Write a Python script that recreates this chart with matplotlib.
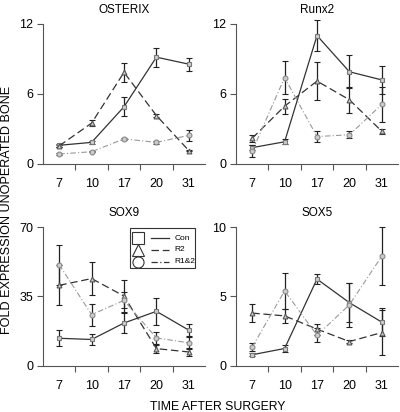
import numpy as np
import matplotlib
matplotlib.use('Agg')
import matplotlib.pyplot as plt

plt.rcParams['font.family'] = ['Liberation Sans', 'DejaVu Sans']

days = ['7', '10', '17', '20', '31']
series = ['Con', 'R2', 'R1&2']

# OSTERIX
ost_con = [1.6, 1.85, 4.9, 9.15, 8.55]
ost_con_err = [0.15, 0.1, 0.8, 0.8, 0.55]
ost_r2 = [1.55, 3.5, 7.85, 4.15, 1.15]
ost_r2_err = [0.1, 0.25, 0.8, 0.15, 0.05]
ost_r12 = [0.85, 1.05, 2.15, 1.85, 2.45]
ost_r12_err = [0.1, 0.05, 0.1, 0.1, 0.5]

# Runx2
runx_con = [1.4, 1.9, 11.0, 7.9, 7.2]
runx_con_err = [0.2, 0.2, 1.3, 1.4, 1.2]
runx_r2 = [2.2, 4.95, 7.1, 5.5, 2.8]
runx_r2_err = [0.3, 0.65, 1.6, 1.1, 0.2]
runx_r12 = [1.1, 7.4, 2.35, 2.5, 5.1]
runx_r12_err = [0.5, 1.4, 0.5, 0.3, 1.5]

# SOX9
sox9_con = [13.9, 13.3, 21.6, 27.5, 18.0]
sox9_con_err = [4.0, 3.0, 5.0, 6.7, 3.0]
sox9_r2 = [40.6, 44.0, 35.2, 8.7, 7.0]
sox9_r2_err = [10.0, 8.4, 8.0, 2.0, 2.0]
sox9_r12 = [51.0, 25.8, 33.0, 14.1, 11.6]
sox9_r12_err = [10.0, 5.5, 4.0, 3.0, 3.0]

# SOX5
sox5_con = [0.8, 1.25, 6.25, 4.55, 3.15]
sox5_con_err = [0.1, 0.25, 0.35, 1.4, 1.0]
sox5_r2 = [3.8, 3.6, 2.65, 1.75, 2.4]
sox5_r2_err = [0.65, 0.5, 0.4, 0.1, 1.6]
sox5_r12 = [1.35, 5.4, 2.2, 4.4, 7.9]
sox5_r12_err = [0.3, 1.3, 0.5, 1.6, 2.1]

panels = [
    ('OSTERIX', [0, 6, 12], (ost_con, ost_con_err), (ost_r2, ost_r2_err), (ost_r12, ost_r12_err)),
    ('Runx2', [0, 6, 12], (runx_con, runx_con_err), (runx_r2, runx_r2_err), (runx_r12, runx_r12_err)),
    ('SOX9', [0, 35, 70], (sox9_con, sox9_con_err), (sox9_r2, sox9_r2_err), (sox9_r12, sox9_r12_err)),
    ('SOX5', [0, 5, 10], (sox5_con, sox5_con_err), (sox5_r2, sox5_r2_err), (sox5_r12, sox5_r12_err)),
]

# 線種・マーカー
styles = [
    dict(ls='-', marker='s', color='#333333', mec='#777777', lw=0.9),
    dict(ls=(0, (6, 3)), marker='^', color='#333333', mec='#555555', lw=0.9),
    dict(ls=(0, (5, 2, 1, 2)), marker='o', color='#999999', mec='#888888', lw=0.8),
]

fig = plt.figure(figsize=(4.0, 4.12), dpi=100)
boxes = [
    [0.1075, 0.602, 0.405, 0.340],
    [0.590, 0.602, 0.405, 0.340],
    [0.1075, 0.112, 0.405, 0.337],
    [0.590, 0.112, 0.405, 0.337],
]

x = np.arange(1, len(days) + 1)
for box, (title, yt, *data) in zip(boxes, panels):
    ax = fig.add_axes(box)
    for (vals, err), st in zip(data, styles):
        ax.errorbar(x, vals, yerr=err, color=st['color'], ls=st['ls'], lw=st['lw'],
                    marker=st['marker'], ms=3.5, mfc='#cccccc', mec=st['mec'], mew=0.8,
                    ecolor='#222222', elinewidth=0.9, capsize=2, capthick=0.8, clip_on=False)
    ax.set_xlim(0.5, len(days) + 0.5)
    ax.set_ylim(yt[0], yt[-1])
    ax.set_yticks(yt)
    ax.set_xticks(np.arange(1.5, len(days), 1.0))
    ax.set_xticklabels([])
    ax.set_xticks(x, minor=True)
    ax.set_xticklabels(days, minor=True)
    ax.tick_params(axis='x', which='minor', length=0, pad=10, labelsize=9)
    ax.tick_params(axis='x', which='major', length=4, width=0.8, color='#555555')
    ax.tick_params(axis='y', length=4, width=0.8, color='#555555', labelsize=9, pad=3)
    for s in ['top', 'right']:
        ax.spines[s].set_visible(False)
    for s in ['left', 'bottom']:
        ax.spines[s].set_color('#555555')
        ax.spines[s].set_linewidth(0.8)
    ax.set_title(title, fontsize=8.5, pad=8)

    if title == 'SOX9':
        # 凡例（手描き）
        ax.add_patch(plt.Rectangle((0.54, 0.705), 0.40, 0.285, transform=ax.transAxes,
                                   fill=False, ec='#333333', lw=0.8, clip_on=False))
        rows = [0.92, 0.835, 0.75]
        for yy, st, name in zip(rows, styles, series):
            ax.plot([0.585], [yy], transform=ax.transAxes, marker=st['marker'], ms=8,
                    mfc='white', mec='#333333', mew=0.8, ls='none', clip_on=False)
            ax.plot([0.665, 0.775], [yy, yy], transform=ax.transAxes, color='#333333',
                    ls=st['ls'], lw=0.9, clip_on=False)
            ax.text(0.81, yy, name, transform=ax.transAxes, fontsize=6, va='center')

fig.text(0.543, 0.012, 'TIME AFTER SURGERY', ha='center', va='center', fontsize=8.8)
fig.text(0.017, 0.49, 'FOLD EXPRESSION UNOPERATED BONE', ha='center', va='center',
         rotation=90, fontsize=9.1)

fig.savefig('out.png', dpi=100)
